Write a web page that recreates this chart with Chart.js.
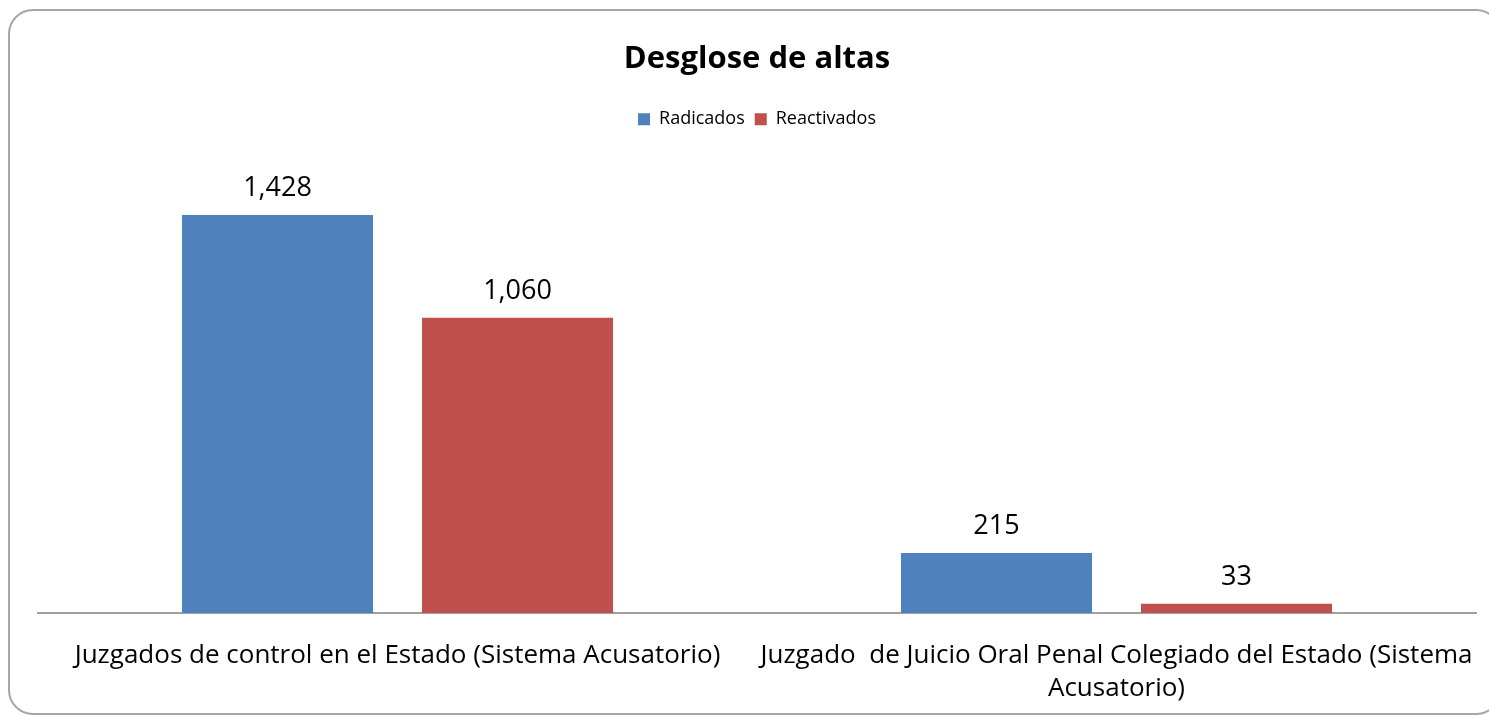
<!DOCTYPE html>
<html><head><meta charset="utf-8">
<script src="https://cdn.jsdelivr.net/npm/chart.js@4.4.1/dist/chart.umd.min.js"></script>
<style>html,body{margin:0;padding:0;background:#fff;overflow:hidden}</style>
</head><body>
<canvas id="c" width="1489" height="716" style="width:1489px;height:716px;display:block"></canvas>
<script>
const titleText = "Desglose de altas";
const categories = [
  ["Juzgados de control en el Estado (Sistema Acusatorio)"],
  ["Juzgado  de Juicio Oral Penal Colegiado del Estado (Sistema", "Acusatorio)"]
];
const seriesNames = ["Radicados", "Reactivados"];
const radicados = [1428, 215];
const reactivados = [1060, 33];
const seriesColors = ["#4F81BD", "#C0504D"];
const FONT = "'Open Sans', 'DejaVu Sans', sans-serif";

const frame = {
  id: 'frame',
  beforeDraw(chart) {
    const ctx = chart.ctx;
    ctx.save();
    ctx.fillStyle = '#fff';
    ctx.fillRect(0, 0, chart.width, chart.height);
    ctx.strokeStyle = '#a6a6a6';
    ctx.lineWidth = 2;
    ctx.beginPath();
    ctx.roundRect(9, 10, 1491, 704, 24);
    ctx.stroke();
    ctx.restore();
  }
};

const valueLabels = {
  id: 'valueLabels',
  afterDatasetsDraw(chart) {
    const ctx = chart.ctx;
    ctx.save();
    ctx.font = "27px " + FONT;
    ctx.fillStyle = '#000';
    ctx.textAlign = 'center';
    ctx.textBaseline = 'alphabetic';
    chart.data.datasets.forEach((ds, i) => {
      const meta = chart.getDatasetMeta(i);
      meta.data.forEach((el, j) => {
        ctx.fillText(ds.data[j].toLocaleString('en-US'), el.x, el.y - 19);
      });
    });
    ctx.restore();
  }
};

new Chart(document.getElementById('c'), {
  type: 'bar',
  data: {
    labels: categories,
    datasets: [
      { label: seriesNames[0], data: radicados, backgroundColor: seriesColors[0] },
      { label: seriesNames[1], data: reactivados, backgroundColor: seriesColors[1] }
    ]
  },
  options: {
    responsive: false,
    animation: false,
    devicePixelRatio: 1,
    layout: { padding: { top: 0, left: 38, right: 13, bottom: 0 } },
    datasets: { bar: { categoryPercentage: 0.6676, barPercentage: 0.796 } },
    plugins: {
      title: {
        display: true, text: titleText, color: '#000',
        font: { family: FONT, size: 31, weight: 'bold', lineHeight: 1.2 },
        padding: { top: 41, bottom: 22 }
      },
      legend: {
        display: true,
        labels: {
          color: '#000', boxWidth: 12, boxHeight: 12, padding: 10,
          font: { family: FONT, size: 18 }
        }
      },
      tooltip: { enabled: false }
    },
    scales: {
      x: {
        grid: { display: false, drawTicks: false, tickLength: 0 },
        border: { display: true, color: '#a0a0a0', width: 2 },
        ticks: {
          color: '#000', padding: 26, maxRotation: 0, autoSkip: false,
          font: { family: FONT, size: 26, lineHeight: 1.27 }
        },
        afterFit(scale) {
          scale.height = 103;
          scale.paddingLeft = 0;
          scale.paddingRight = 0;
        }
      },
      y: {
        display: false, min: 0, max: 1704
      }
    }
  },
  plugins: [frame, valueLabels]
});
</script>
</body></html>
